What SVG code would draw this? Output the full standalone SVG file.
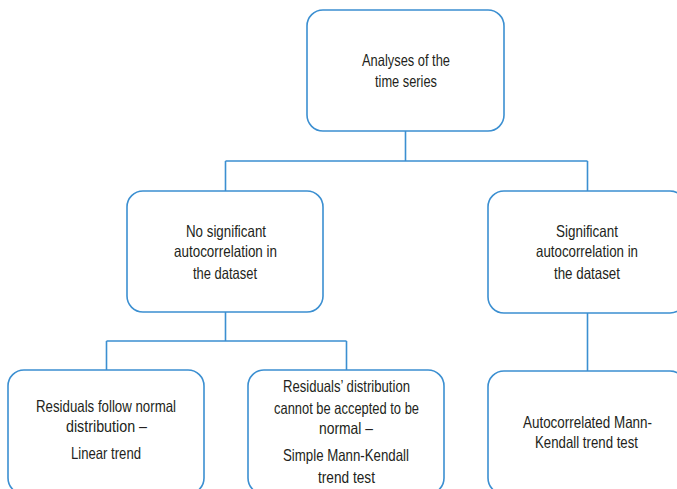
<svg xmlns="http://www.w3.org/2000/svg" width="677" height="489" viewBox="0 0 677 489">
<style>
.box{fill:#fff;stroke:#3b8fd1;stroke-width:1.6}
.ln{fill:none;stroke:#3b8fd1;stroke-width:1.6}
text{font-family:"Liberation Sans",Arial,sans-serif;font-size:16.5px;fill:#231f20;text-anchor:start}
</style>
<rect width="677" height="489" fill="#fff"/>
<g id="connectors">
<path class="ln" d="M405.5 131V161M225.5 161H587.5M225.5 161V191M587.5 161V191"/>
<path class="ln" d="M225.5 312V341M106.5 341H346.5M106.5 341V370M346.5 341V370"/>
<path class="ln" d="M587.5 313V371"/>
</g>
<g id="root">
<rect class="box" x="307" y="10" width="197" height="121" rx="16"/>
<text x="362" y="66" textLength="88" lengthAdjust="spacingAndGlyphs">Analyses of the</text>
<text x="375" y="87" textLength="62" lengthAdjust="spacingAndGlyphs">time series</text>
</g>
<g id="no-autocorrelation">
<rect class="box" x="127" y="191" width="196" height="121" rx="16"/>
<text x="186" y="237" textLength="80" lengthAdjust="spacingAndGlyphs">No significant</text>
<text x="174" y="257" textLength="103" lengthAdjust="spacingAndGlyphs">autocorrelation in</text>
<text x="193" y="279" textLength="64" lengthAdjust="spacingAndGlyphs">the dataset</text>
</g>
<g id="autocorrelation">
<rect class="box" x="488" y="191" width="198" height="122" rx="16"/>
<text x="556" y="237" textLength="62" lengthAdjust="spacingAndGlyphs">Significant</text>
<text x="536" y="257" textLength="102" lengthAdjust="spacingAndGlyphs">autocorrelation in</text>
<text x="554" y="279" textLength="66" lengthAdjust="spacingAndGlyphs">the dataset</text>
</g>
<g id="linear-trend">
<rect class="box" x="8" y="370" width="196" height="124" rx="16"/>
<text x="36" y="412" textLength="140" lengthAdjust="spacingAndGlyphs">Residuals follow normal</text>
<text x="66" y="432" textLength="81" lengthAdjust="spacingAndGlyphs">distribution –</text>
<text x="71" y="459" textLength="70" lengthAdjust="spacingAndGlyphs">Linear trend</text>
</g>
<g id="simple-mk">
<rect class="box" x="248" y="370" width="196" height="124" rx="16"/>
<text x="283" y="392" textLength="127" lengthAdjust="spacingAndGlyphs">Residuals’ distribution</text>
<text x="274" y="414" textLength="145" lengthAdjust="spacingAndGlyphs">cannot be accepted to be</text>
<text x="319" y="434" textLength="54" lengthAdjust="spacingAndGlyphs">normal –</text>
<text x="283" y="461" textLength="126" lengthAdjust="spacingAndGlyphs">Simple Mann-Kendall</text>
<text x="318" y="483" textLength="57" lengthAdjust="spacingAndGlyphs">trend test</text>
</g>
<g id="autocorrelated-mk">
<rect class="box" x="488" y="371" width="198" height="123" rx="16"/>
<text x="523" y="428" textLength="129" lengthAdjust="spacingAndGlyphs">Autocorrelated Mann-</text>
<text x="535" y="448" textLength="103" lengthAdjust="spacingAndGlyphs">Kendall trend test</text>
</g>
</svg>
